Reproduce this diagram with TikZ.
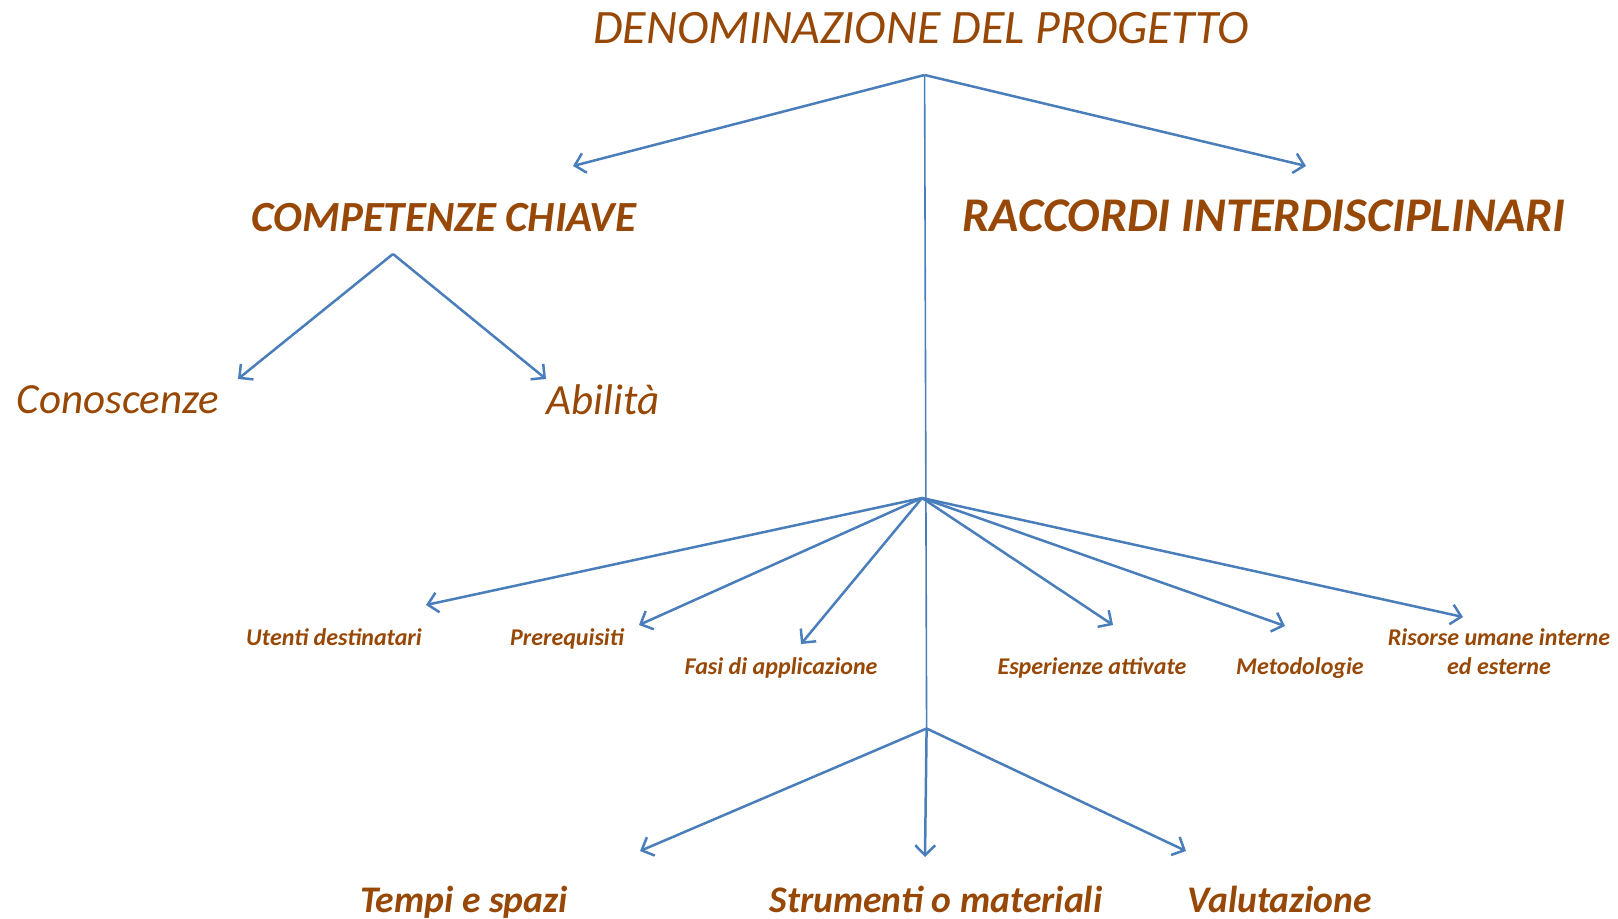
\documentclass[tikz,border=0pt]{standalone}
\usepackage{fontspec}
\setmainfont{Carlito}
\usetikzlibrary{arrows.meta}
\definecolor{marrone}{HTML}{984806}
\definecolor{blulinea}{HTML}{4A7EBB}

\begin{document}
\begin{tikzpicture}[x=0.5pt, y=-0.5pt,
		titolo/.style={text=marrone, inner sep=0pt, font=\fontsize{24}{29}\selectfont\itshape},
		grande/.style={text=marrone, inner sep=0pt, font=\fontsize{21.5}{26}\selectfont\bfseries\itshape},
		medio/.style={text=marrone, inner sep=0pt, font=\fontsize{21.5}{26}\selectfont\itshape},
		piccolo/.style={text=marrone, inner sep=0pt, align=center, text depth=.25em, font=\fontsize{12}{14.5}\selectfont\bfseries\itshape},
		basso/.style={text=marrone, inner sep=0pt, text depth=.25em, font=\fontsize{18.8}{22}\selectfont\bfseries\itshape},
		freccia/.style={draw=blulinea, line width=1.25pt, -{Straight Barb[length=5pt, width=10pt]}}]
		\useasboundingbox (0, 0) rectangle (1618, 919);
		\node[titolo] (progetto) at (921, 28) {DENOMINAZIONE DEL PROGETTO};
		\node[grande] (competenze) at (444, 218) {COMPETENZE CHIAVE};
		\node[grande, font=\fontsize{24.2}{29}\selectfont\bfseries\itshape] (raccordi) at (1264, 216) {RACCORDI INTERDISCIPLINARI};
		\node[medio] (conoscenze) at (118, 400) {Conoscenze};
		\node[medio] (abilita) at (603, 400) {Abilità};
		\node[piccolo] (utenti) at (334, 640) {Utenti destinatari};
		\node[piccolo] (prereq) at (567, 640) {Prerequisiti};
		\node[piccolo] (fasi) at (781, 669) {Fasi di applicazione};
		\node[piccolo] (esperienze) at (1092, 669) {Esperienze attivate};
		\node[piccolo] (metodologie) at (1300, 669) {Metodologie};
		\node[piccolo] (risorse) at (1499, 654) {Risorse umane interne\\ed esterne};
		\node[basso] (tempi) at (464, 902) {Tempi e spazi};
		\node[basso] (strumenti) at (936, 902) {Strumenti o materiali};
		\node[basso] (valutazione) at (1280, 902) {Valutazione};
		\coordinate (cima) at (924.6, 75);
		\coordinate (vertice) at (393, 254);
		\coordinate (ventaglio) at (922, 498);
		\coordinate (fondo) at (926.6, 728.5);
		\foreach \n/\x/\y in {competenze/573/166, raccordi/1306/166, conoscenze/238/379, abilita/546/379,
				utenti/426/605, prereq/639/625, fasi/801/644, esperienze/1113/625, metodologie/1285/626, risorse/1463/617,
				tempi/640/851, strumenti/925/857, valutazione/1186/851}
			\coordinate (p-\n) at (\x, \y);
		\draw[blulinea, line width=0.8pt] (cima) -- (fondo);
		\foreach \n in {competenze, raccordi}
			\draw[freccia] (cima) -- (p-\n);
		\foreach \n in {conoscenze, abilita}
			\draw[freccia] (vertice) -- (p-\n);
		\foreach \n in {utenti, prereq, fasi, esperienze, metodologie, risorse}
			\draw[freccia] (ventaglio) -- (p-\n);
		\foreach \n in {tempi, strumenti, valutazione}
			\draw[freccia] (fondo) -- (p-\n);
	\end{tikzpicture}
\end{document}
